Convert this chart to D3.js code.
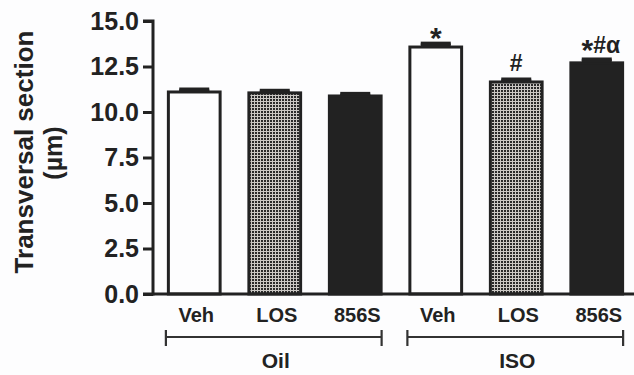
<!DOCTYPE html>
<html><head><meta charset="utf-8">
<script src="https://cdn.jsdelivr.net/npm/d3@7"></script>
<style>
html,body{margin:0;padding:0;background:#fdfdfe;}
svg{display:block;font-family:"Liberation Sans",Arial,sans-serif;font-weight:bold;}
</style></head>
<body><svg id="chart" width="634" height="375"></svg>
<script>
const categories = ["Veh","LOS","856S","Veh","LOS","856S"];
const groups = ["Oil","ISO"];
const groupOf = [0,0,0,1,1,1];
const values = [11.1, 11.05, 10.88, 13.57, 11.65, 12.7];
const errors = [0.15, 0.13, 0.13, 0.2, 0.15, 0.2];
const fills = ["white","pattern","solid","white","pattern","solid"];
const annotations = ["","","","*","#","*#α"];
const yTicks = [0, 2.5, 5, 7.5, 10, 12.5, 15];

const svg = d3.select("#chart");
const ink = "#222";

const defs = svg.append("defs");
const pat = defs.append("pattern").attr("id","checker").attr("patternUnits","userSpaceOnUse")
  .attr("width",3).attr("height",3);
pat.append("rect").attr("width",3).attr("height",3).attr("fill","#cbc8c4");
pat.append("rect").attr("width",2).attr("height",2).attr("fill","#2a2a2a");

const y = d3.scaleLinear().domain([0,15]).range([294,21]);
const x = d3.scaleBand().domain(d3.range(categories.length)).range([154,637])
  .paddingInner(0.32).paddingOuter(0.16);

// bars
const bw = x.bandwidth();
svg.append("g").selectAll("rect").data(values).join("rect")
  .attr("x",(d,i)=>x(i)+1.5)
  .attr("y",d=>y(d))
  .attr("width",bw-3)
  .attr("height",d=>y(0)-y(d))
  .attr("fill",(d,i)=>fills[i]==="white"?"#fdfdfe":fills[i]==="pattern"?"url(#checker)":ink)
  .attr("stroke",ink).attr("stroke-width",3);

// error bars
const eg = svg.append("g").attr("stroke",ink).attr("stroke-width",3.5);
values.forEach((v,i)=>{
  const cx = x(i)+bw/2;
  eg.append("line").attr("x1",cx).attr("x2",cx).attr("y1",y(v)).attr("y2",y(v+errors[i]));
  eg.append("line").attr("x1",cx-15).attr("x2",cx+15).attr("y1",y(v+errors[i])).attr("y2",y(v+errors[i]));
  eg.append("rect").attr("x",cx-15).attr("width",30).attr("y",y(v+errors[i])).attr("height",Math.max(0,y(v)-y(v+errors[i])))
    .attr("fill",ink).attr("stroke","none");
});

// annotations
values.forEach((v,i)=>{
  const a = annotations[i];
  if(!a) return;
  const single = a.length===1;
  const cx = x(i)+bw/2 + (single?0:4);
  const t = svg.append("text").attr("x",cx).attr("y",y(v+errors[i]) - (single?8:6))
    .attr("text-anchor","middle").attr("fill",ink).attr("font-size",23);
  let shifted = false;
  for(const ch of a){
    const ts = t.append("tspan").text(ch);
    if(ch==="*"){
      ts.attr("font-size",30).attr("dy", single? 13 : 7);
      shifted = true;
    } else if(shifted){
      ts.attr("dy", -7);
      shifted = false;
    }
  }
});

// y axis
const yAxis = d3.axisLeft(y).tickValues(yTicks).tickFormat(d3.format(".1f")).tickSize(10).tickPadding(4);
const gy = svg.append("g").attr("transform","translate(153,0)").call(yAxis);
gy.select(".domain").attr("stroke",ink).attr("stroke-width",3).attr("d","M-10,"+y(15)+"H0V"+y(0)+"H-10");
gy.selectAll(".tick line").attr("stroke",ink).attr("stroke-width",3);
gy.selectAll(".tick text").attr("fill",ink).attr("font-size",25).attr("font-family","'Liberation Sans',Arial,sans-serif").attr("font-weight","bold");

// x baseline
svg.append("line").attr("x1",152).attr("x2",634).attr("y1",y(0)).attr("y2",y(0))
  .attr("stroke",ink).attr("stroke-width",3);

// category labels
svg.append("g").selectAll("text").data(categories).join("text")
  .attr("x",(d,i)=>x(i)+bw/2+2).attr("y",322)
  .attr("text-anchor","middle").attr("font-size",20).attr("fill",ink).text(d=>d);

// group brackets
groups.forEach((g,gi)=>{
  const idx = d3.range(categories.length).filter(i=>groupOf[i]===gi);
  const x0 = x(idx[0])-1, x1 = x(idx[idx.length-1])+bw-1;
  const bg = svg.append("g").attr("stroke","#333").attr("stroke-width",2.2);
  bg.append("line").attr("x1",x0).attr("x2",x1).attr("y1",337).attr("y2",337);
  bg.append("line").attr("x1",x0).attr("x2",x0).attr("y1",330).attr("y2",346);
  bg.append("line").attr("x1",x1).attr("x2",x1).attr("y1",330).attr("y2",346);
  svg.append("text").attr("x",(x0+x1)/2+2).attr("y",368).attr("text-anchor","middle")
    .attr("font-size",21).attr("fill",ink).text(g);
});

// y title
svg.append("text").attr("transform","translate(33,152) rotate(-90)").attr("text-anchor","middle")
  .attr("font-size",26).attr("fill",ink).text("Transversal section");
svg.append("text").attr("transform","translate(62,153) rotate(-90)").attr("text-anchor","middle")
  .attr("font-size",25).attr("fill",ink).text("(µm)");
</script></body></html>
